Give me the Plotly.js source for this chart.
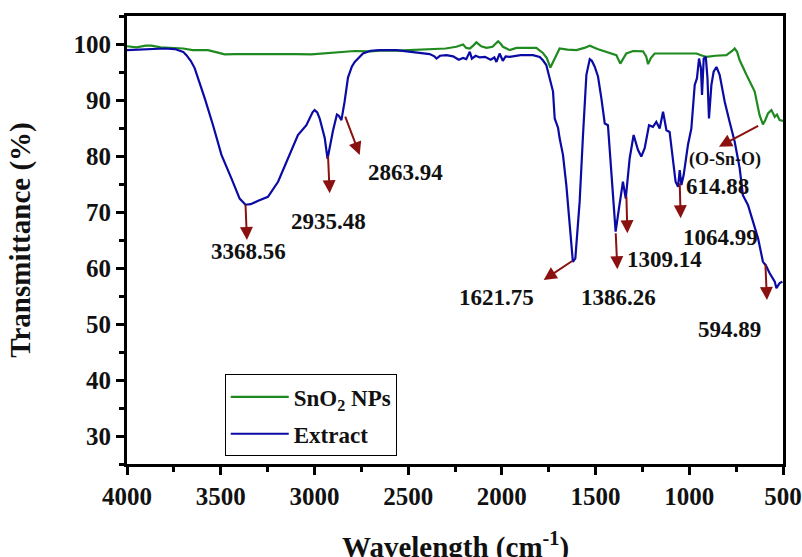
<!DOCTYPE html>
<html>
<head>
<meta charset="utf-8">
<script src="https://cdn.plot.ly/plotly-3.0.1.min.js"></script>
<style>html,body{margin:0;padding:0;background:#fff;}#chart{width:802px;height:557px;}</style>
</head>
<body>
<div id="chart"></div>
<script>
// Extract (blue) spectrum
const extractWn = [4000,3900,3800,3745,3700,3683,3660,3639,3610,3585,3541,3496,3443,3399,3368,3340,3300,3248,3194,3141,3088,3043,3010,2999,2985,2972,2945,2930,2915,2901,2880,2870,2856,2845,2839,2821,2800,2785,2741,2700,2652,2563,2474,2400,2385,2360,2349,2330,2296,2260,2230,2207,2190,2171,2160,2140,2118,2090,2060,2040,2029,2012,1995,1980,1958,1900,1852,1834,1798,1781,1763,1745,1727,1718,1700,1692,1674,1656,1638,1621,1608,1585,1567,1549,1531,1520,1505,1487,1469,1451,1434,1416,1393,1375,1354,1339,1318,1297,1274,1256,1238,1215,1194,1176,1158,1140,1122,1105,1090,1073,1060,1051,1042,1030,1007,989,971,959,948,938,932,923,912,903,895,882,870,855,838,811,785,758,731,714,687,660,633,607,592,571,544,535,518,503];
const extractT = [98.9,99.1,99.2,99.1,98.6,98.0,97.0,95.7,93.0,90.3,85.5,80.2,76.0,72.4,71.3,71.4,72.0,72.7,75.4,79.6,83.75,85.5,87.8,88.2,87.8,86.7,83.2,79.5,82.5,84.5,87.4,87.2,86.4,88.5,89.7,94.0,96.0,96.8,98.3,98.8,98.9,98.9,98.5,98.3,98.2,97.8,97.4,97.9,98.0,97.8,97.2,97.5,97.3,98.6,97.4,97.9,97.6,97.7,97.2,97.6,96.8,98.3,97.0,97.8,97.7,98.0,98.0,98.0,97.7,97.1,96.25,93.9,91.5,86.7,85.0,83.2,80.2,74.8,67.1,61.1,61.7,71.8,83.75,94.5,97.3,97.0,96.0,94.2,90.3,85.8,85.5,77.8,66.5,70.7,75.4,72.4,79.6,83.75,81.1,79.9,81.4,85.5,85.2,86.1,84.9,87.9,84.6,84.3,80.2,75.4,74.5,77.5,74.8,76.6,82.0,84.9,92.7,93.9,97.4,95.7,90.9,97.4,97.7,93.9,86.7,92.7,95.05,95.9,94.5,89.7,86.1,82.6,77.8,73.0,71.25,68.3,65.3,61.1,60.5,59.05,57.55,56.4,57.3,57.55];

// SnO2 NPs (green) spectrum
const snoWn = [4000,3950,3900,3870,3820,3745,3700,3650,3568,3520,3479,3425,3350,3300,3212,3150,3100,3016,2945,2880,2785,2700,2652,2560,2474,2385,2300,2243,2207,2190,2171,2150,2136,2110,2082,2050,2020,2005,1994,1958,1922,1870,1816,1781,1760,1741,1725,1709,1692,1650,1602,1560,1531,1490,1442,1389,1368,1350,1336,1300,1247,1230,1220,1205,1185,1105,1000,962,930,909,860,802,770,758,745,731,695,651,625,607,595,580,562,550,544,532,518,500];
const snoT = [99.6,99.4,99.7,99.7,99.4,99.3,99.2,98.9,98.9,98.5,98.15,98.2,98.2,98.3,98.3,98.3,98.2,98.15,98.3,98.5,98.75,98.7,98.8,98.8,98.9,99.1,99.2,99.5,99.9,99.3,99.2,99.8,100.3,99.6,99.3,99.5,100.5,100.0,99.5,98.9,99.3,99.3,99.3,98.4,97.5,95.8,97.0,98.0,99.2,99.0,98.9,99.3,99.7,99.1,98.6,98.0,96.5,97.5,98.3,98.75,98.7,97.8,96.4,97.5,98.3,98.3,98.3,98.3,97.9,97.7,97.9,98.0,98.8,99.2,98.6,97.1,94.5,91.5,87.3,85.65,86.4,87.6,88.2,87.2,87.0,87.4,86.4,86.25];

const xTickVals = [4000,3500,3000,2500,2000,1500,1000,500];
const yTickVals = [30,40,50,60,70,80,90,100];
const seriesNames = ['SnO<sub>2</sub> NPs','Extract'];
const xTitle = 'Wavelength (cm<sup>-1</sup>)';
const yTitle = 'Transmittance (%)';

// Peak labels
const peakLabels = ['3368.56','2935.48','2863.94','1621.75','1386.26','1309.14','1064.99','614.88','594.89'];

const serif = 'Liberation Serif, Times New Roman, serif';
const arrowColor = '#8b1010';

const traces = [
  {x: snoWn, y: snoT, name: '<b>'+seriesNames[0]+'</b>', legendgroup:'a', type:'scatter', mode:'lines', line:{color:'#1f8a1f', width:2.2}},
  {x: extractWn, y: extractT, name: '<b>'+seriesNames[1]+'</b>', legendgroup:'b', type:'scatter', mode:'lines', line:{color:'#0a0aa5', width:2.2}}
];

function arrow(hx, hy, tx, ty){
  return {x:hx, y:hy, ax:tx, ay:ty, xref:'x', yref:'y', axref:'x', ayref:'y', text:'', showarrow:true,
          arrowhead:2, arrowsize:1.3, arrowwidth:2, arrowcolor:arrowColor};
}
function label(t, x, y, size){
  return {x:x, y:y, xref:'x', yref:'y', text:'<b>'+t+'</b>', showarrow:false,
          font:{family:serif, size:size||23, color:'#111'}, xanchor:'center', yanchor:'middle'};
}

const annotations = [
  arrow(3360,65.0,3368,71.55),
  arrow(2918.6,73.34,2927.7,80.2),
  arrow(2758.5,80.2,2838.6,87.3),
  arrow(1776.9,57.86,1616.8,61.43),
  arrow(1383.7,59.77,1392.8,66.48),
  arrow(1330.3,66.2,1335.7,73.04),
  arrow(1045.9,68.88,1051.3,75.4),
  arrow(841.7,81.66,624.5,85.54),
  arrow(585.6,54.29,594.1,60.84),
  label(peakLabels[0],3350.7,62.86),
  label(peakLabels[1],2923.8,68.27),
  label(peakLabels[2],2513.1,77.0),
  label(peakLabels[3],2027.6,54.82),
  label(peakLabels[4],1375.2,54.77),
  label(peakLabels[5],1131.3,61.6),
  label(peakLabels[6],832.6,65.48),
  label(peakLabels[7],847,74.52),
  label('(O-Sn-O)',811.2,79.29,18),
  label(peakLabels[8],784.6,48.93),
  {xref:'paper', yref:'paper', x:0.5, y:-0.227, xanchor:'center', yanchor:'bottom', showarrow:false,
   text:'<b>'+xTitle+'</b>', font:{family:serif, size:29, color:'#111'}}
];

const layout = {
  width:802, height:557,
  margin:{l:127, r:19, t:16, b:93},
  paper_bgcolor:'#fff', plot_bgcolor:'#fff',
  showlegend:true,
  legend:{x:0.149, y:0.20, xanchor:'left', yanchor:'top', bgcolor:'#fff', bordercolor:'#000', borderwidth:1,
          font:{family:serif, size:23, color:'#111'}, tracegroupgap:4, itemwidth:58},
  xaxis:{range:[4000,500], tickvals:xTickVals, showgrid:false, zeroline:false,
         showline:true, linewidth:3, linecolor:'#000', mirror:true,
         ticks:'outside', ticklen:8, tickwidth:3, tickcolor:'#000',
         minor:{ticks:'outside', ticklen:5, tickwidth:3, tickcolor:'#000', dtick:250, showgrid:false},
         tickfont:{family:serif, size:25, color:'#111', weight:'bold'},
         automargin:false},
  yaxis:{range:[25,105], tickvals:yTickVals, showgrid:false, zeroline:false,
         showline:true, linewidth:3, linecolor:'#000', mirror:true,
         ticks:'outside', ticklen:8, tickwidth:3, tickcolor:'#000',
         minor:{ticks:'outside', ticklen:5, tickwidth:3, tickcolor:'#000', dtick:5, tick0:25, showgrid:false},
         tickfont:{family:serif, size:25, color:'#111', weight:'bold'},
         title:{text:'<b>'+yTitle+'</b>', font:{family:serif, size:29, color:'#111'}, standoff:35},
         automargin:false},
  annotations:annotations
};

Plotly.newPlot('chart', traces, layout, {displayModeBar:false, staticPlot:true});
</script>
</body>
</html>
